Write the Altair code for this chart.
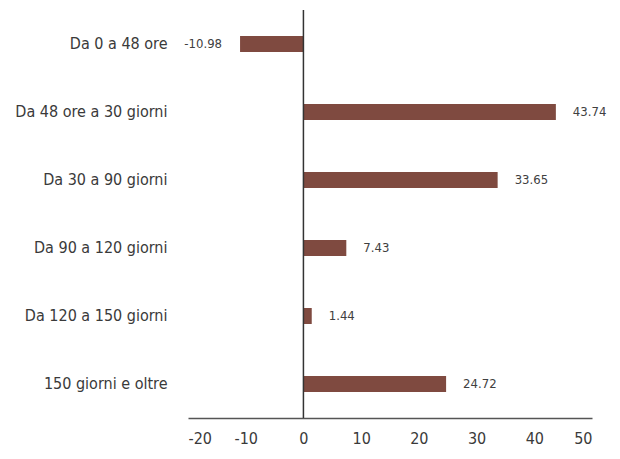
import altair as alt
import pandas as pd

categories = ["Da 0 a 48 ore", "Da 48 ore a 30 giorni", "Da 30 a 90 giorni",
              "Da 90 a 120 giorni", "Da 120 a 150 giorni", "150 giorni e oltre"]
values = [-10.98, 43.74, 33.65, 7.43, 1.44, 24.72]
labels = ["-10.98", "43.74", "33.65", "7.43", "1.44", "24.72"]
x_ticks = [-20, -10, 0, 10, 20, 30, 40, 50]

df = pd.DataFrame({"cat": categories, "val": values, "lab": labels})
FONT = "DejaVu Sans Condensed"

yenc = alt.Y("cat:N", sort=categories,
             scale=alt.Scale(paddingInner=0.765, paddingOuter=0.3825),
             axis=alt.Axis(title=None, domain=False, ticks=False, labelPadding=21,
                           labelFontSize=16, labelFont=FONT, labelColor="#3a3a3a"))
xenc = alt.X("val:Q", scale=alt.Scale(domain=[-20, 50], nice=False),
             axis=alt.Axis(title=None, values=x_ticks, grid=False, ticks=False,
                           domainColor="#555555", domainWidth=1.5, labelPadding=12,
                           labelExpr="'' + datum.value",
                           labelFontSize=16, labelFont=FONT, labelColor="#3a3a3a"))

base = alt.Chart(df)
bars = base.mark_bar(color="#7f4a40").encode(x=xenc, y=yenc)
pos = base.transform_filter("datum.val >= 0").mark_text(
    align="left", baseline="middle", dx=17, fontSize=13, font=FONT, color="#404040"
).encode(x="val:Q", y=alt.Y("cat:N", sort=categories), text="lab:N")
neg = base.transform_filter("datum.val < 0").mark_text(
    align="right", baseline="middle", dx=-18, fontSize=13, font=FONT, color="#404040"
).encode(x="val:Q", y=alt.Y("cat:N", sort=categories), text="lab:N")
zero = alt.Chart(pd.DataFrame({"z": [0]})).mark_rule(color="#333333", strokeWidth=1.5).encode(x="z:Q")

chart = alt.layer(bars, zero, pos, neg).properties(
    width=404, height=408, padding={"left": 180, "top": 2, "right": 20, "bottom": 30},
    autosize=alt.AutoSizeParams(type="none"), background="white"
).configure_view(strokeWidth=0, strokeOpacity=0)

chart.save("out.html", embed_options={"renderer": "svg", "actions": False})
